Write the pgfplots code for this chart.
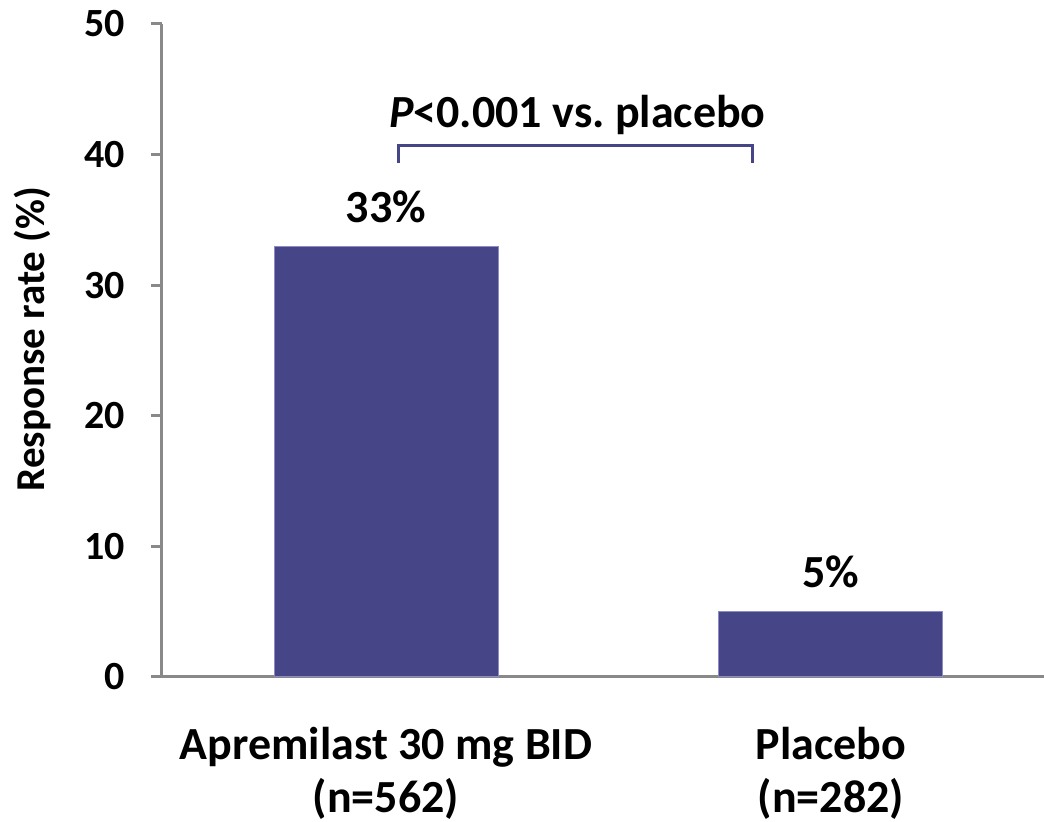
\documentclass[border=0pt]{standalone}
\usepackage{fontspec}
\setmainfont{Carlito}
\usepackage{pgfplots}
\pgfplotsset{compat=1.18}
\definecolor{barblue}{RGB}{70,69,135}
\definecolor{baredge}{RGB}{140,139,196}
\definecolor{axisgray}{RGB}{137,137,137}

\begin{document}
\begin{tikzpicture}
\begin{axis}[
  scale only axis,
  width=441pt, height=326.5pt,
  xmin=-0.5034, xmax=1.4787,
  ymin=0, ymax=50,
  clip=false,
  axis lines*=left,
  axis line style={axisgray, line width=1.5pt, -},
  tick align=outside,
  major tick length=5.5pt,
  y tick style={axisgray, line width=1.5pt},
  x tick style={draw=none},
  ytick={0,10,20,30,40,50},
  xtick={0,1},
  xticklabels={{Apremilast 30 mg BID\\(n=562)},{Placebo\\(n=282)}},
  /pgf/number format/assume math mode=true,
  yticklabel style={font=\fontsize{20}{24}\selectfont\bfseries, anchor=east, inner sep=0pt},
  yticklabel shift=13pt,
  xticklabel style={font=\fontsize{23}{26.5}\selectfont\bfseries, align=center, anchor=north, inner sep=0pt},
  xticklabel shift=19.5pt,
  ylabel={Response rate (\%)},
  every axis y label/.style={at={(rel axis cs:-0.1327,0.5176)}, rotate=90, anchor=base,
    font=\fontsize{20.5}{24}\selectfont\bfseries},
  ybar,
  bar width=112pt,
  nodes near coords={\pgfmathprintnumber{\pgfplotspointmeta}\%},
  every node near coord/.append style={font=\fontsize{23}{27}\selectfont\bfseries, anchor=base, inner sep=0pt, yshift=12pt, black},
]
\addplot[fill=barblue, draw=baredge, line width=0.5pt] coordinates {(0,33) (1,5)};

% significance bracket between the two groups
\draw[barblue, line width=1.5pt] (axis cs:0.029,39.36) -- (axis cs:0.029,40.66)
  -- (axis cs:0.8225,40.66) -- (axis cs:0.8225,39.36);
\node[anchor=base, inner sep=0pt, font=\fontsize{23}{27}\selectfont\bfseries]
  at (axis cs:0.43,42.11) {\textit{P}<0.001 vs.\ placebo};

\coordinate (bbll) at (rel axis cs:-0.18367,-0.22205);
\coordinate (bbur) at (rel axis cs:1,1.036753);
\end{axis}
\pgfresetboundingbox
\useasboundingbox (bbll) rectangle (bbur);
\end{tikzpicture}
\end{document}
